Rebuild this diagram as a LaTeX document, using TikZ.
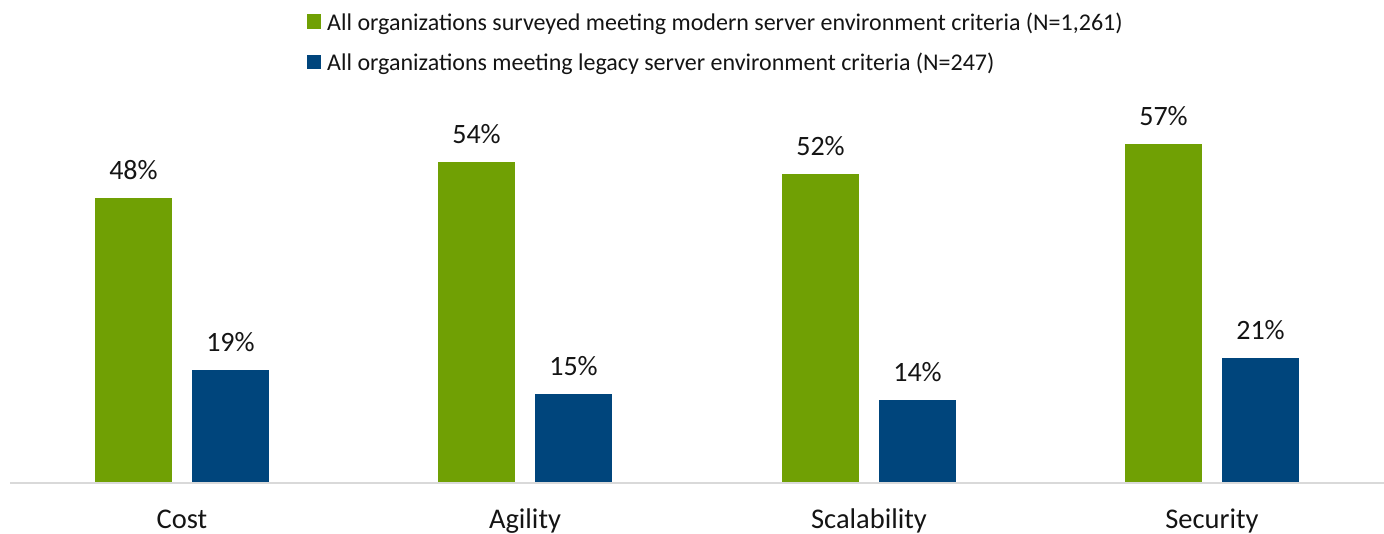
\documentclass[tikz,border=0pt]{standalone}
\usepackage{fontspec}
\setmainfont{Carlito}
\definecolor{bargreen}{RGB}{112,160,4}
\definecolor{barblue}{RGB}{0,69,124}
\definecolor{axisgray}{RGB}{217,217,217}
\definecolor{txt}{RGB}{20,20,20}
\begin{document}
\begin{tikzpicture}[x=1pt,y=-1pt,
  valuelabel/.style={font=\fontsize{28}{32}\selectfont,text=txt,anchor=base,inner sep=0pt},
  catlabel/.style={font=\fontsize{28.5}{32}\selectfont,text=txt,anchor=base,inner sep=0pt},
  legendtext/.style={font=\fontsize{24}{28}\selectfont,text=txt,anchor=base west,inner sep=0pt}]
\useasboundingbox (0,0) rectangle (1384,533);
% axis
\draw[axisgray,line width=1.5pt] (10,483) -- (1384,483);
% bars
\newcommand{\barpair}[5]{%
  \fill[bargreen] (#1,#2) rectangle (#1+77,482);
  \fill[barblue] (#1+97,#3) rectangle (#1+174,482);
  \node[valuelabel] at (#1+38.5,#2-19) {#4};
  \node[valuelabel] at (#1+135.5,#3-19) {#5};
}
\barpair{95}{198}{370}{48\%}{19\%}
\barpair{438}{162}{394}{54\%}{15\%}
\barpair{782}{174}{400}{52\%}{14\%}
\barpair{1125}{144}{358}{57\%}{21\%}
% categories
\node[catlabel] (c1) at (182,528) {Cost};
\node[catlabel] (c2) at (525,528) {Agility};
\node[catlabel] (c3) at (869,528) {Scalability};
\node[catlabel] (c4) at (1212,528) {Security};
% legend
\fill[bargreen] (307,14) rectangle (321,29);
\node[legendtext] (l1) at (327,30) {All organizations surveyed meeting modern server environment criteria (N=1,261)};
\fill[barblue] (307,55) rectangle (321,69);
\node[legendtext] (l2) at (327,70) {All organizations meeting legacy server environment criteria (N=247)};
\end{tikzpicture}
\end{document}
